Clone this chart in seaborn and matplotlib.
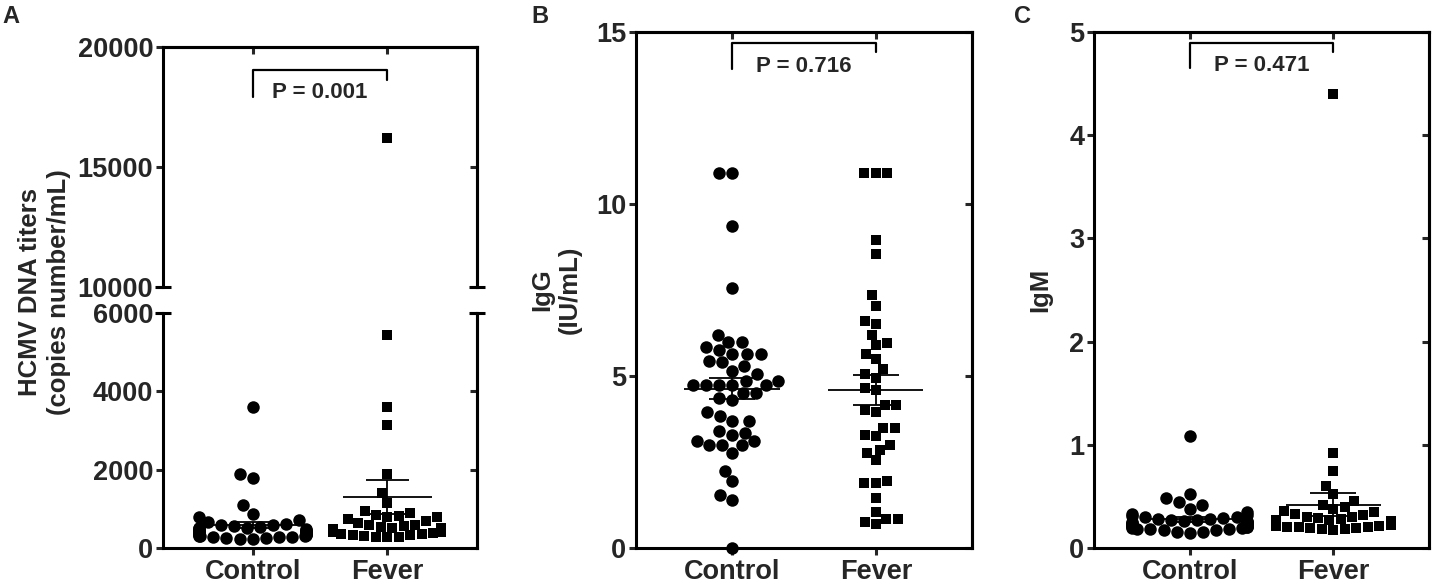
import numpy as np
import matplotlib.pyplot as plt
import seaborn as sns

groups = ["Control", "Fever"]

# HCMV DNA titers (copies number/mL)
hcmv_control = [3600, 1900, 1800, 1100, 880, 780, 720, 660, 620, 600, 580, 560, 540,
                520, 500, 500, 480, 470, 460, 450, 440, 430, 420, 410, 400, 400, 390,
                380, 370, 360, 350, 340, 330, 320, 310, 300, 300, 290, 280, 270, 260,
                250, 240, 230]
hcmv_fever = [16200, 5450, 3600, 3150, 1900, 1400, 1150, 950, 900, 850, 820, 800, 780,
              750, 700, 650, 600, 580, 560, 540, 520, 500, 480, 460, 450, 440, 420,
              400, 400, 380, 360, 350, 340, 320, 300, 290, 280, 270]

# IgG (IU/mL)
igg_control = [10.9, 10.9, 9.35, 7.55, 6.2, 6.0, 6.0, 5.85, 5.75, 5.65, 5.65, 5.65,
               5.45, 5.4, 5.3, 5.15, 5.05, 4.85, 4.85, 4.75, 4.75, 4.75, 4.75, 4.75,
               4.5, 4.5, 4.35, 4.3, 3.95, 3.85, 3.7, 3.7, 3.4, 3.35, 3.3, 3.1, 3.1,
               3.0, 3.0, 3.0, 2.75, 2.25, 1.95, 1.55, 1.4, 0.0]
igg_fever = [10.9, 10.9, 10.9, 8.95, 8.55, 7.35, 7.05, 6.6, 6.5, 6.2, 5.95, 5.9, 5.65,
             5.5, 5.2, 5.05, 4.95, 4.65, 4.6, 4.15, 4.15, 4.0, 3.95, 3.5, 3.5, 3.3,
             3.25, 3.0, 2.85, 2.75, 2.55, 1.95, 1.9, 1.9, 1.45, 1.05, 0.85, 0.85,
             0.75, 0.7]

# IgM
igm_control = [1.09, 0.52, 0.48, 0.45, 0.42, 0.38, 0.35, 0.33, 0.32, 0.31, 0.30, 0.30,
               0.29, 0.28, 0.28, 0.27, 0.27, 0.26, 0.26, 0.25, 0.25, 0.25, 0.24, 0.24,
               0.23, 0.23, 0.22, 0.22, 0.22, 0.21, 0.21, 0.20, 0.20, 0.20, 0.19, 0.19,
               0.18, 0.18, 0.18, 0.17, 0.17, 0.16, 0.16, 0.15]
igm_fever = [4.4, 0.92, 0.75, 0.6, 0.52, 0.46, 0.42, 0.40, 0.38, 0.36, 0.35, 0.33, 0.32,
             0.30, 0.30, 0.29, 0.28, 0.27, 0.27, 0.26, 0.25, 0.25, 0.24, 0.24, 0.23,
             0.23, 0.22, 0.22, 0.21, 0.21, 0.20, 0.20, 0.20, 0.19, 0.19, 0.18, 0.18,
             0.17]

p_texts = ["P = 0.001", "P = 0.716", "P = 0.471"]

sns.set_style("ticks")
plt.rcParams["font.family"] = ["Liberation Sans", "DejaVu Sans"]
plt.rcParams["font.weight"] = "bold"
plt.rcParams["axes.labelweight"] = "bold"
plt.rcParams["axes.linewidth"] = 2.2
plt.rcParams["axes.edgecolor"] = "black"

LW = 2.2
TICK = 19.5
LABEL = 18.5


def draw_groups(ax, control, fever, clip=True):
    sns.swarmplot(x=["Control"] * len(control), y=control, order=groups, color="black",
                  marker="o", size=9, linewidth=0, ax=ax, clip_on=clip, warn_thresh=1)
    sns.swarmplot(x=["Fever"] * len(fever), y=fever, order=groups, color="black",
                  marker="s", size=7.9, linewidth=0, ax=ax, clip_on=clip, warn_thresh=1)
    # mean +/- SEM
    for i, vals in enumerate([control, fever]):
        vals = np.asarray(vals, dtype=float)
        m = vals.mean()
        se = vals.std(ddof=1) / np.sqrt(len(vals))
        ax.hlines(m, i - 0.33, i + 0.33, color="black", lw=1.3, zorder=5)
        ax.hlines([m - se, m + se], i - 0.16, i + 0.16, color="black", lw=1.3, zorder=5)
        ax.vlines(i, m - se, m + se, color="black", lw=1.3, zorder=5)
    ax.set_xlim(-0.667, 1.667)


def style_axes(ax, yticks, bottom=True, top=True):
    for s in ax.spines.values():
        s.set_linewidth(LW)
        s.set_visible(True)
    ax.set_yticks(yticks)
    ax.tick_params(axis="y", direction="out", length=5, width=LW, labelsize=TICK, pad=2)
    ax.tick_params(axis="x", direction="out", length=5, width=LW, labelsize=TICK, pad=3,
                   bottom=bottom, labelbottom=bottom)
    ax.set_xlabel("")
    ax.set_ylabel("")
    right = ax.secondary_yaxis("right")
    right.set_yticks(yticks)
    right.tick_params(direction="in", length=5, width=LW, labelright=False)
    if top:
        tp = ax.secondary_xaxis("top")
        tp.set_xticks([0, 1])
        tp.tick_params(direction="in", length=5, width=LW, labeltop=False)


def bracket(ax, y_top, y_left, y_right, text, y_text):
    ax.plot([0, 0, 1, 1], [y_left, y_top, y_top, y_right], color="black", lw=1.6,
            clip_on=False)
    ax.text(0.5, y_text, text, ha="center", va="center", fontsize=16, fontweight="bold")


fig = plt.figure(figsize=(14.33, 5.87), dpi=100)

# Panel A, broken axis
ax_hi = fig.add_axes([0.1137, 0.5111, 0.2191, 0.4089])
ax_lo = fig.add_axes([0.1137, 0.0664, 0.2191, 0.4004])
draw_groups(ax_hi, hcmv_control, hcmv_fever)
draw_groups(ax_lo, hcmv_control, hcmv_fever)
ax_hi.set_ylim(10000, 20000)
ax_lo.set_ylim(0, 6000)
style_axes(ax_hi, [10000, 15000, 20000], bottom=False)
style_axes(ax_lo, [0, 2000, 4000, 6000], top=False)
ax_hi.spines["bottom"].set_visible(False)
ax_lo.spines["top"].set_visible(False)
ax_lo.set_xticks([0, 1])
ax_lo.set_xticklabels(groups)
ax_hi.plot([0, 1], [0, 0], transform=ax_hi.transAxes, marker="_", markersize=11,
           mew=LW, color="black", linestyle="none", clip_on=False)
ax_lo.plot([0, 1], [1, 1], transform=ax_lo.transAxes, marker="_", markersize=11,
           mew=LW, color="black", linestyle="none", clip_on=False)
bracket(ax_hi, 19050, 17920, 18620, p_texts[0], 18100)
fig.text(0.031, 0.503, "HCMV DNA titers\n(copies number/mL)", rotation=90,
         ha="center", va="center", fontsize=LABEL, fontweight="bold",
         multialignment="center", linespacing=1.3)

# Panel B
ax_b = fig.add_axes([0.4438, 0.0664, 0.2345, 0.879])
draw_groups(ax_b, igg_control, igg_fever, clip=False)
ax_b.set_ylim(0, 15)
style_axes(ax_b, [0, 5, 10, 15])
ax_b.set_xticks([0, 1])
ax_b.set_xticklabels(groups)
ax_b.set_ylabel("IgG\n(IU/mL)", fontsize=LABEL, labelpad=10, linespacing=1.2)
bracket(ax_b, 14.68, 13.94, 14.42, p_texts[1], 14.0)

# Panel C
ax_c = fig.add_axes([0.7634, 0.0664, 0.2338, 0.879])
draw_groups(ax_c, igm_control, igm_fever, clip=False)
ax_c.set_ylim(0, 5)
style_axes(ax_c, [0, 1, 2, 3, 4, 5])
ax_c.set_xticks([0, 1])
ax_c.set_xticklabels(groups)
ax_c.set_ylabel("IgM", fontsize=LABEL, labelpad=12)
bracket(ax_c, 4.89, 4.65, 4.81, p_texts[2], 4.68)

for letter, x in zip(["A", "B", "C"], [0.002, 0.371, 0.7076]):
    fig.text(x, 0.972, letter, fontsize=17, fontweight="bold", ha="left", va="center")

fig.savefig("out.png", dpi=100)
